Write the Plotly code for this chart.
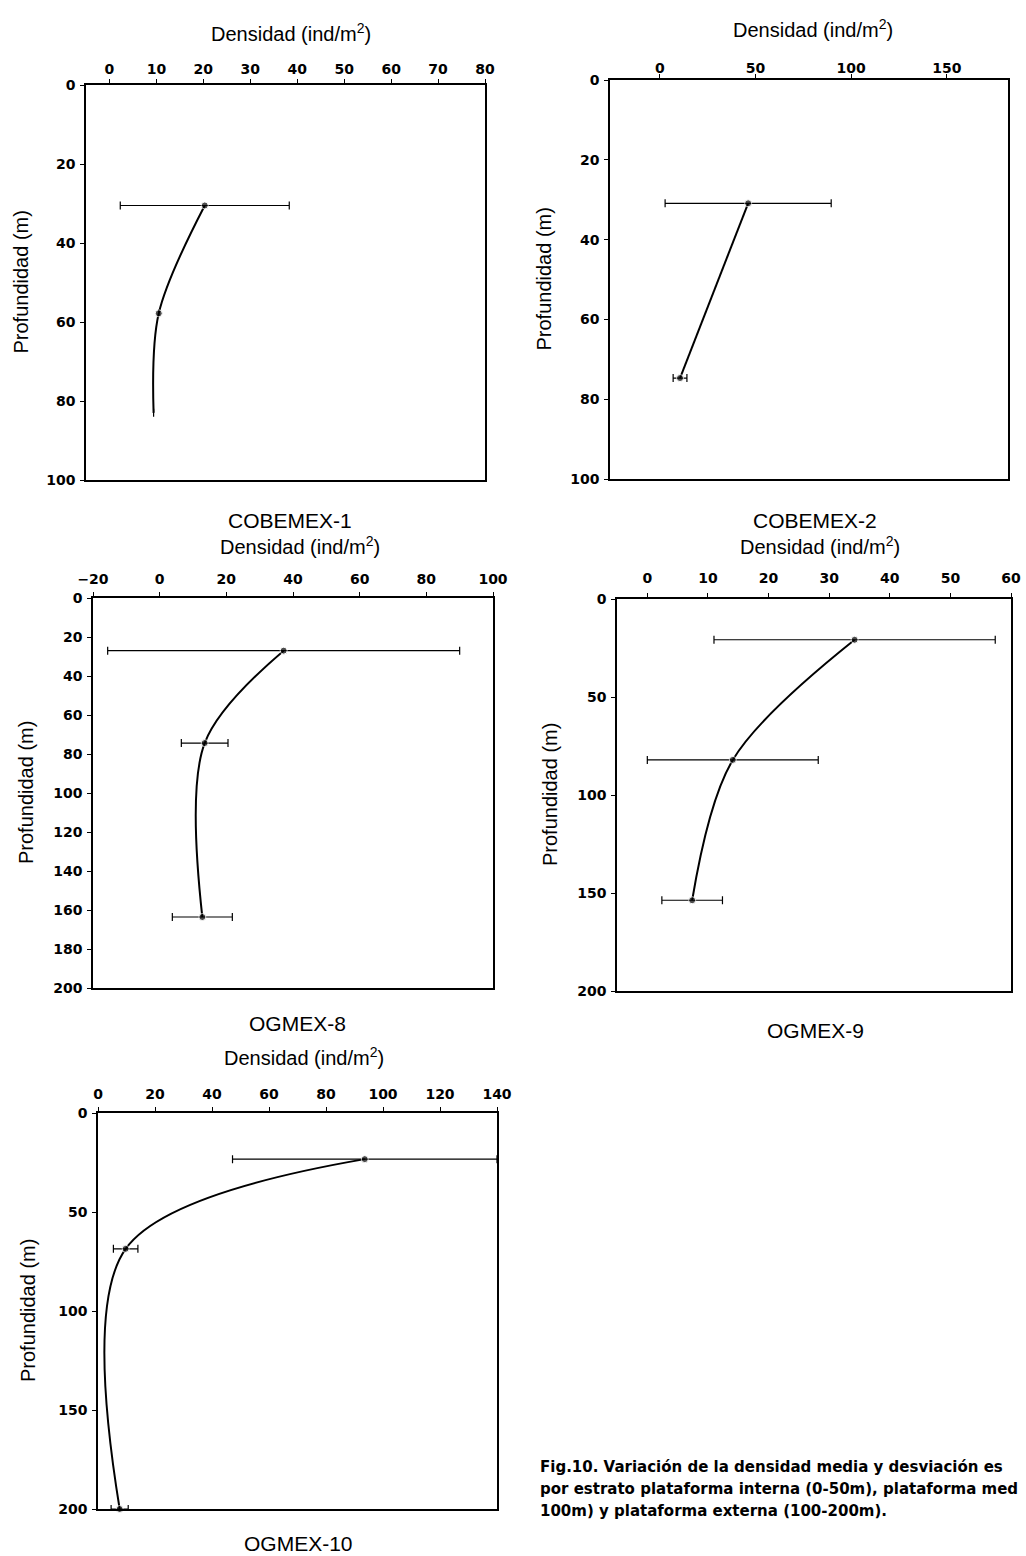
import plotly.graph_objects as go

W, H = 1026, 1556

# ---------------- data ----------------
names = ["COBEMEX-1", "COBEMEX-2", "OGMEX-8", "OGMEX-9", "OGMEX-10"]

dens1 = [20.3, 10.5, 9.4]
depth1 = [30.5, 57.8, 83.0]
sd1 = [18.0, None, None]

dens2 = [46.2, 10.6]
depth2 = [30.9, 74.7]
sd2 = [43.4, 3.6]

dens3 = [37.2, 13.5, 12.8]
depth3 = [27.0, 74.4, 163.6]
sd3 = [52.8, 7.0, 9.0]

dens4 = [34.2, 14.1, 7.4]
depth4 = [20.8, 82.1, 153.7]
sd4 = [23.2, 14.1, 5.0]

dens5 = [93.6, 9.7, 7.6]
depth5 = [23.3, 68.6, 200.0]
sd5 = [46.4, 4.3, 3.0]

xticks1 = [0, 10, 20, 30, 40, 50, 60, 70, 80]
xticks2 = [0, 50, 100, 150]
xticks3 = [-20, 0, 20, 40, 60, 80, 100]
xticks4 = [0, 10, 20, 30, 40, 50, 60]
xticks5 = [0, 20, 40, 60, 80, 100, 120, 140]
yticks1 = [0, 20, 40, 60, 80, 100]
yticks3 = [0, 20, 40, 60, 80, 100, 120, 140, 160, 180, 200]
yticks4 = [0, 50, 100, 150, 200]

# caption as visible in the (cropped) reference
caption = ["Fig.10. Variación de la densidad media y desviación es",
           "por estrato plataforma interna (0-50m), plataforma med",
           "100m) y plataforma externa (100-200m)."]

# ---------------- layout geometry (pixels) ----------------
panels = [
    dict(x=dens1, y=depth1, sd=sd1, xr=[-5, 80], yr=[100, 0], xt=xticks1, yt=yticks1,
         box=(86, 485, 85, 480), msize=[7, 7, 0], xso=0,
         title=(291, 47), ylab=20, cap=(290, 520)),
    dict(x=dens2, y=depth2, sd=sd2, xr=[-26, 182], yr=[100, 0], xt=xticks2, yt=yticks1,
         box=(610, 1008, 80, 479), msize=[7, 7], xso=-4,
         title=(813, 43), ylab=543, cap=(815, 520)),
    dict(x=dens3, y=depth3, sd=sd3, xr=[-20, 100], yr=[200, 0], xt=xticks3, yt=yticks3,
         box=(93, 493, 598, 988), msize=[7, 7, 7], xso=3,
         title=(300, 560), ylab=26, cap=(297, 1023)),
    dict(x=dens4, y=depth4, sd=sd4, xr=[-5, 60], yr=[200, 0], xt=xticks4, yt=yticks4,
         box=(617, 1011, 599, 991), msize=[7, 7, 7], xso=5,
         title=(820, 560), ylab=550, cap=(815, 1030)),
    dict(x=dens5, y=depth5, sd=sd5, xr=[0, 140], yr=[200, 0], xt=xticks5, yt=yticks4,
         box=(98, 497, 1113, 1509), msize=[7, 7, 7], xso=3,
         title=(304, 1071), ylab=28, cap=(298, 1543)),
]

FONT = "Liberation Sans, Arial, sans-serif"
TICKFONT = "DejaVu Sans, sans-serif"

fig = go.Figure()
annotations = []

def px_x(p):
    return p / W

def px_y(p):
    return 1 - p / H

for i, p in enumerate(panels):
    k = "" if i == 0 else str(i + 1)
    fig.add_trace(go.Scatter(
        x=p["x"], y=p["y"], mode="lines+markers",
        line=dict(color="black", width=2, shape="spline", smoothing=0.95),
        marker=dict(color="black", size=p["msize"]),
        error_x=dict(type="data", array=p["sd"], symmetric=True,
                     color="black", thickness=1.2, width=4),
        xaxis="x" + k, yaxis="y" + k, showlegend=False, cliponaxis=False,
    ))
    x0, x1, y0, y1 = p["box"]
    common = dict(showline=True, linecolor="black", linewidth=1.6, mirror=True,
                  showgrid=False, zeroline=False, ticks="outside", ticklen=4,
                  tickcolor="black", tickwidth=1, automargin=False, fixedrange=True,
                  tickfont=dict(family=TICKFONT, size=14, color="black", weight="bold"))
    fig.update_layout(**{
        "xaxis" + k: dict(domain=[px_x(x0), px_x(x1)], range=p["xr"], side="top",
                          tickvals=p["xt"], anchor="y" + k,
                          ticklabelstandoff=p["xso"], **common),
        "yaxis" + k: dict(domain=[px_y(y1), px_y(y0)], range=p["yr"],
                          tickvals=p["yt"], anchor="x" + k,
                          ticklabelstandoff=2, **common),
    })
    tx, ty = p["title"]
    annotations.append(dict(text="Densidad (ind/m<sup>2</sup>)", x=px_x(tx), y=px_y(ty),
                            xref="paper", yref="paper", showarrow=False,
                            xanchor="center", yanchor="bottom",
                            font=dict(family=FONT, size=20, color="black")))
    annotations.append(dict(text="Profundidad (m)", x=px_x(p["ylab"]),
                            y=px_y((y0 + y1) / 2), xref="paper", yref="paper",
                            showarrow=False, textangle=-90,
                            xanchor="center", yanchor="middle",
                            font=dict(family=FONT, size=20, color="black")))
    cx, cy = p["cap"]
    annotations.append(dict(text=names[i], x=px_x(cx), y=px_y(cy),
                            xref="paper", yref="paper", showarrow=False,
                            xanchor="center", yanchor="middle",
                            font=dict(family=FONT, size=21, color="black")))

for j, line in enumerate(caption):
    annotations.append(dict(text="<b>" + line + "</b>", x=px_x(538), y=px_y(1467 + 22 * j),
                            xref="paper", yref="paper", showarrow=False,
                            xanchor="left", yanchor="middle", align="left",
                            font=dict(family=TICKFONT, size=15, color="black")))

fig.update_layout(width=W, height=H, margin=dict(l=0, r=0, t=0, b=0),
                  paper_bgcolor="white", plot_bgcolor="white",
                  annotations=annotations)

fig.write_html("out.html")
